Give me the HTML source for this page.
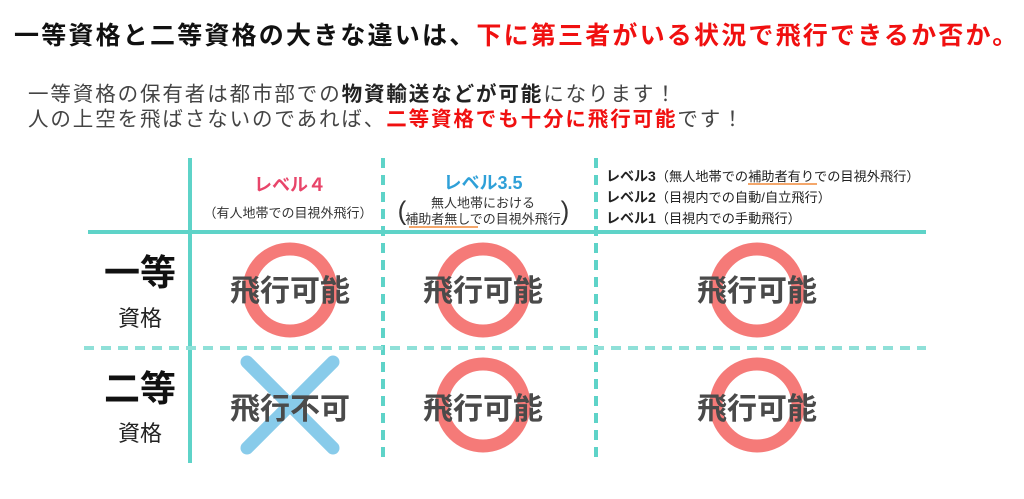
<!DOCTYPE html>
<html><head><meta charset="utf-8"><style>
body{margin:0;width:1024px;height:499px;background:#fff;position:relative;overflow:hidden;font-family:"Liberation Sans","Noto Sans CJK JP",sans-serif;}
.a{position:absolute;white-space:nowrap;}
.t{left:14px;top:16px;font-size:25px;font-weight:bold;letter-spacing:2.2px;color:#111;}
.r{color:#f01010;}
.l{left:28px;font-size:20.5px;color:#444;letter-spacing:1.9px;}
.l b{color:#222;}
.l b.r{color:#f01010;}
.c{text-align:center;transform:translate(-50%,-50%);}
.big{font-size:30px;font-weight:bold;color:#4a4a4a;}
</style></head><body>
<div class="a t">一等資格と二等資格の大きな違いは、<span class="r">下に第三者がいる状況で飛行できるか否か。</span></div>
<div class="a l" style="top:77px">一等資格の保有者は都市部での<b>物資輸送などが可能</b>になります！</div>
<div class="a l" style="top:102px">人の上空を飛ばさないのであれば、<b class="r">二等資格でも十分に飛行可能</b>です！</div>

<svg class="a" style="left:0;top:0" width="1024" height="499">
<g stroke="#5ed3c8" stroke-width="4">
<line x1="190" y1="158" x2="190" y2="463"/>
<line x1="88" y1="232" x2="926" y2="232"/>
</g>
<g stroke="#5ed3c8" stroke-width="4" stroke-dasharray="10,7">
<line x1="383" y1="158" x2="383" y2="463"/>
<line x1="596" y1="158" x2="596" y2="463"/>
<line x1="84" y1="348" x2="926" y2="348" stroke="#8fe0d8"/>
</g>
<g fill="none" stroke="#f57a78" stroke-width="13">
<circle cx="290" cy="290" r="41"/>
<circle cx="483" cy="290" r="41"/>
<circle cx="757" cy="290" r="41"/>
<circle cx="483" cy="405" r="41"/>
<circle cx="757" cy="405" r="41"/>
</g>
<g stroke="#88cbea" stroke-width="13" stroke-linecap="round">
<line x1="247" y1="362" x2="333" y2="448"/>
<line x1="333" y1="362" x2="247" y2="448"/>
</g>
<line x1="409" y1="227" x2="478" y2="227" stroke="#f08a3a" stroke-width="1.5"/>
<line x1="748" y1="184" x2="817" y2="184" stroke="#f08a3a" stroke-width="1.5"/>
</svg>

<div class="a c" style="left:290px;top:184px;font-size:18px;font-weight:bold;color:#e8456a">レベル４</div>
<div class="a c" style="left:288px;top:212px;font-size:13px;color:#333">（有人地帯での目視外飛行）</div>
<div class="a c" style="left:483px;top:182px;font-size:18px;font-weight:bold;color:#2fa0d8">レベル3.5</div>
<div class="a c" style="left:483px;top:202px;font-size:13px;color:#333">無人地帯における</div>
<div class="a c" style="left:483px;top:218px;font-size:13px;color:#333">補助者無しでの目視外飛行</div>
<div class="a c" style="left:402px;top:211px;font-size:26px;color:#333;font-weight:100">(</div>
<div class="a c" style="left:565px;top:211px;font-size:26px;color:#333;font-weight:100">)</div>
<div class="a" style="left:606px;top:166px;font-size:13.2px;color:#222;line-height:21px">
<b style="font-size:14px">レベル3</b>（無人地帯での補助者有りでの目視外飛行）<br>
<b style="font-size:14px">レベル2</b>（目視内での自動/自立飛行）<br>
<b style="font-size:14px">レベル1</b>（目視内での手動飛行）</div>

<div class="a c" style="left:140px;top:270px;font-size:36px;font-weight:bold;color:#111">一等</div>
<div class="a c" style="left:140px;top:317px;font-size:22px;color:#222">資格</div>
<div class="a c" style="left:140px;top:386px;font-size:36px;font-weight:bold;color:#111">二等</div>
<div class="a c" style="left:140px;top:432px;font-size:22px;color:#222">資格</div>

<div class="a c big" style="left:290px;top:288px">飛行可能</div>
<div class="a c big" style="left:483px;top:288px">飛行可能</div>
<div class="a c big" style="left:757px;top:288px">飛行可能</div>
<div class="a c big" style="left:290px;top:406px">飛行不可</div>
<div class="a c big" style="left:483px;top:406px">飛行可能</div>
<div class="a c big" style="left:757px;top:406px">飛行可能</div>
</body></html>
